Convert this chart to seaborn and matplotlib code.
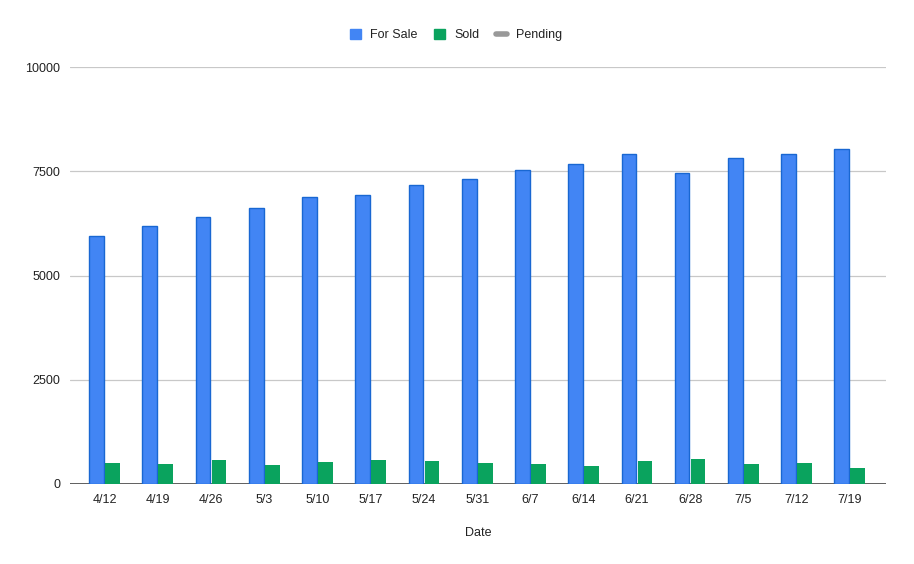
import matplotlib
matplotlib.use("Agg")
import matplotlib.pyplot as plt
from matplotlib.lines import Line2D
from matplotlib.patches import Patch
import seaborn as sns
import pandas as pd

dates = ["4/12", "4/19", "4/26", "5/3", "5/10", "5/17", "5/24", "5/31",
         "6/7", "6/14", "6/21", "6/28", "7/5", "7/12", "7/19"]
for_sale = [5947, 6187, 6400, 6612, 6890, 6923, 7163, 7307,
            7523, 7667, 7907, 7451, 7811, 7907, 8027]
sold = [504, 480, 576, 456, 528, 576, 559, 503,
        480, 439, 552, 600, 480, 504, 384]
yticks = [0, 2500, 5000, 7500, 10000]

df = pd.DataFrame({
    "Date": dates * 2,
    "value": for_sale + sold,
    "series": ["For Sale"] * len(dates) + ["Sold"] * len(dates),
})

sns.set_theme(style="white")
plt.rcParams["font.family"] = ["Liberation Sans", "DejaVu Sans"]

fig = plt.figure(figsize=(9.14, 5.64), dpi=100)
ax = fig.add_axes([70 / 914, 1 - 484 / 564, 816 / 914, 417 / 564])

blue = "#4285F4"
green = "#0AA35E"
sns.barplot(data=df, x="Date", y="value", hue="series", order=dates,
            hue_order=["For Sale", "Sold"], palette=[blue, green],
            width=0.6, gap=0.08, ax=ax, legend=False, saturation=1)

for patch in ax.patches:
    fc = patch.get_facecolor()
    if abs(fc[2] - 0.957) < 0.02:
        patch.set_edgecolor("#1967D2")
        patch.set_linewidth(1.0)
    else:
        patch.set_edgecolor("none")

ax.set_ylim(0, 10000)
ax.set_xlim(-0.65, 14.68)
ax.set_yticks(yticks)
ax.set_yticklabels([str(v) for v in yticks])
ax.yaxis.grid(True, color="#c8c8c8", linewidth=0.9)
ax.set_axisbelow(True)
ax.axhline(0, color="#333333", linewidth=1.2, zorder=0.5)
for s in ax.spines.values():
    s.set_visible(False)
ax.tick_params(axis="both", length=0, labelsize=9, colors="#222222")
ax.tick_params(axis="y", pad=7)
ax.tick_params(axis="x", pad=7)
ax.set_ylabel("")
ax.set_xlabel("Date", fontsize=9, color="#222222", labelpad=15)

handles = [
    Patch(facecolor=blue, edgecolor=blue),
    Patch(facecolor=green, edgecolor=green),
    Line2D([0], [0], color="#999999", linewidth=4),
]
fig.legend(handles, ["For Sale", "Sold", "Pending"], loc="center",
           bbox_to_anchor=(456 / 914, 1 - 35 / 564), ncol=3, frameon=False,
           fontsize=9, handlelength=0.9, handleheight=0.9,
           columnspacing=1.3, handletextpad=0.75, labelcolor="#222222")

fig.savefig("out.png", dpi=100, facecolor="white")
